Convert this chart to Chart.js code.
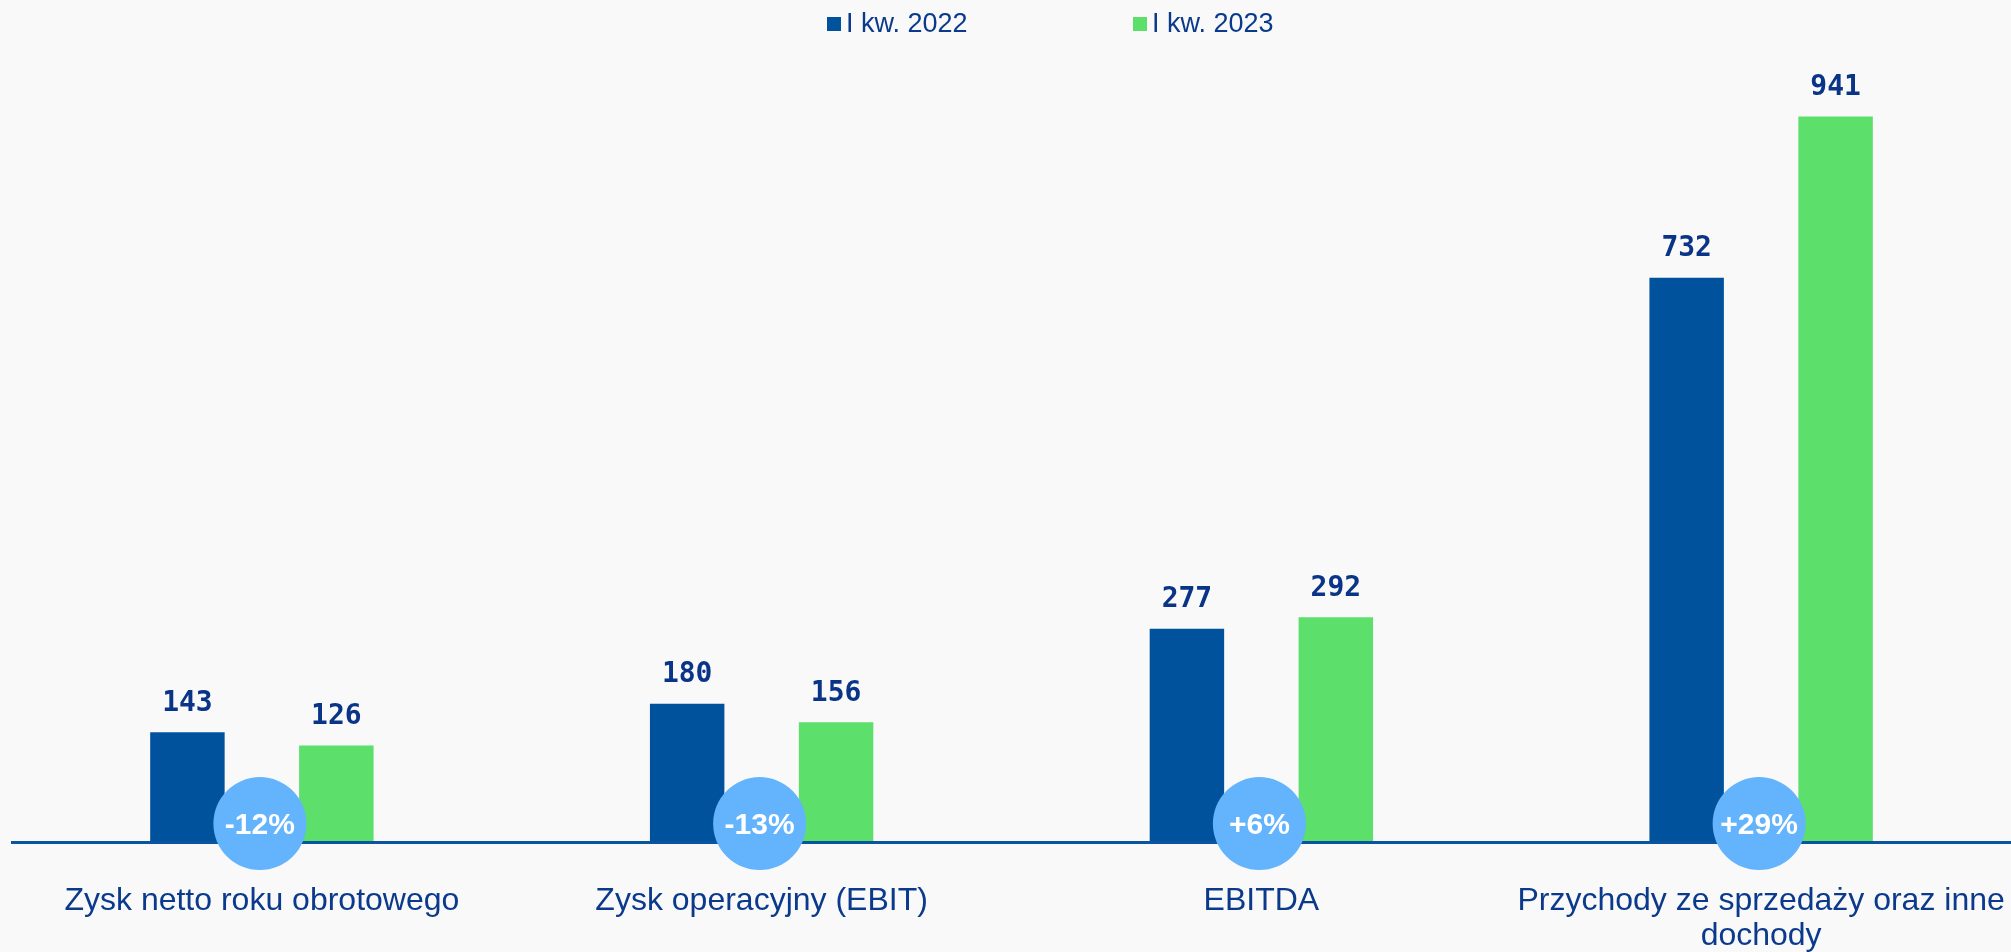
<!DOCTYPE html>
<html>
<head>
<meta charset="utf-8">
<script src="https://cdn.jsdelivr.net/npm/chart.js@4/dist/chart.umd.min.js"></script>
<style>
  html, body { margin: 0; padding: 0; background: #f9f9f9; }
  #wrap { width: 2011px; height: 952px; }
</style>
</head>
<body>
<div id="wrap"><canvas id="chart"></canvas></div>
<script>
// data
const categories = [
    'Zysk netto roku obrotowego',
    'Zysk operacyjny (EBIT)',
    'EBITDA',
    ['Przychody ze sprzedaży oraz inne', 'dochody']
];
const seriesNames = ['I kw. 2022', 'I kw. 2023'];
const values2022 = [143, 180, 277, 732];
const values2023 = [126, 156, 292, 941];
const changeLabels = ['-12%', '-13%', '+6%', '+29%'];

const blue = '#00529c';
const green = '#5cdf6b';
const navy = '#0b3a8c';

// value labels above bars
const valueLabels = {
    id: 'valueLabels',
    afterDatasetsDraw(chart) {
        const ctx = chart.ctx;
        ctx.save();
        ctx.font = 'bold 28px "DejaVu Sans Mono"';
        ctx.fillStyle = '#0a3487';
        ctx.textAlign = 'center';
        ctx.textBaseline = 'middle';
        chart.data.datasets.forEach((ds, di) => {
            chart.getDatasetMeta(di).data.forEach((bar, i) => {
                ctx.fillText(ds.data[i], bar.x, bar.y - 29);
            });
        });
        ctx.restore();
    }
};

// circles with the change in percent
const changeBubbles = {
    id: 'changeBubbles',
    afterDraw(chart) {
        const ctx = chart.ctx;
        const x = chart.scales.x, y = chart.scales.y;
        ctx.save();
        changeLabels.forEach((txt, i) => {
            const cx = x.getPixelForValue(i) - 2;
            const cy = y.getPixelForValue(0) - 19;
            ctx.beginPath();
            ctx.arc(cx, cy, 46.5, 0, Math.PI * 2);
            ctx.fillStyle = '#63b4fc';
            ctx.fill();
            ctx.font = 'bold 30px "Liberation Sans"';
            ctx.fillStyle = '#ffffff';
            ctx.textAlign = 'center';
            ctx.textBaseline = 'middle';
            ctx.fillText(txt, cx, cy + 2);
        });
        ctx.restore();
    }
};

// legend drawn by hand to match spacing
const topLegend = {
    id: 'topLegend',
    afterDraw(chart) {
        const ctx = chart.ctx;
        const xs = [827, 1133];
        ctx.save();
        ctx.font = '27px "Liberation Sans"';
        ctx.textBaseline = 'alphabetic';
        ctx.textAlign = 'left';
        chart.data.datasets.forEach((ds, i) => {
            ctx.fillStyle = ds.backgroundColor;
            ctx.fillRect(xs[i], 17, 14, 14);
            ctx.fillStyle = navy;
            ctx.fillText(ds.label, xs[i] + 19, 32);
        });
        ctx.restore();
    }
};

new Chart(document.getElementById('chart'), {
    type: 'bar',
    data: {
        labels: categories,
        datasets: [{
            label: seriesNames[0],
            data: values2022,
            backgroundColor: blue
        },
        {
            label: seriesNames[1],
            data: values2023,
            backgroundColor: green
        }]
    },
    options: {
        responsive: true,
        maintainAspectRatio: false,
        animation: false,
        categoryPercentage: 0.596,
        barPercentage: 0.5,
        layout: {
            padding: { top: 71, left: 12, right: 0, bottom: -6 }
        },
        plugins: {
            legend: { display: false },
            tooltip: { enabled: false }
        },
        scales: {
            x: {
                grid: {
                    display: true,
                    drawOnChartArea: false,
                    drawTicks: true,
                    tickLength: 37,
                    color: 'transparent'
                },
                border: { display: true, color: '#0b55a0', width: 3, z: 1 },
                ticks: {
                    padding: 4,
                    color: navy,
                    font: { family: '"Liberation Sans"', size: 32, lineHeight: 1.1 },
                    maxRotation: 0,
                    autoSkip: false
                }
            },
            y: {
                display: false,
                min: 0,
                max: 1000
            }
        }
    },
    plugins: [valueLabels, changeBubbles, topLegend]
});
</script>
</body>
</html>
